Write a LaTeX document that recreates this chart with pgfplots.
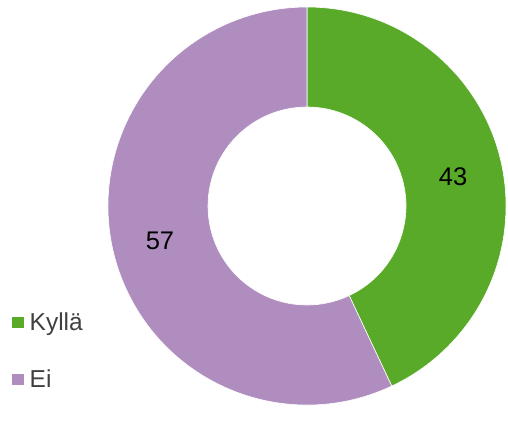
\documentclass[border=0pt]{standalone}
\usepackage{pgfplots}
\pgfplotsset{compat=1.18}
\usepackage{fontspec}
\setmainfont{Liberation Sans}
\definecolor{kyllaGreen}{HTML}{5AAA2A}
\definecolor{eiPurple}{HTML}{AF8EBF}
\definecolor{legendGray}{HTML}{404040}

% shares of the two answers
\def\valKylla{43}
\def\valEi{57}
\pgfmathsetmacro\angEnd{90-360*\valKylla/(\valKylla+\valEi)}

\begin{document}
\begin{tikzpicture}
\begin{axis}[
  x=1bp, y=1bp, scale only axis,
  xmin=0, xmax=508, ymin=0, ymax=406,
  hide axis, clip=false,
  legend style={at={(axis cs:12,95)}, anchor=north west,
                draw=none, fill=none, inner sep=0pt,
                row sep=33bp,
                font=\fontsize{24.5bp}{28bp}\selectfont, text=legendGray,
                /tikz/every odd column/.append style={column sep=3.5bp}},
  legend cell align=left,
  legend image code/.code={\fill[#1] (0bp,-5.5bp) rectangle (12bp,5.5bp);},
]
  % keep the page as large as the reference
  \path (axis cs:0,0) rectangle (axis cs:508,406);
  % green sector: Kyllä
  \fill[kyllaGreen, draw=white, line width=0.6bp]
    (axis cs:307,200) ++(90:199bp)
    arc[start angle=90, end angle=\angEnd, radius=199bp]
    -- ++(\angEnd+180:100bp)
    arc[start angle=\angEnd, end angle=90, radius=99bp] -- cycle;
  % purple sector: Ei
  \fill[eiPurple, draw=white, line width=0.6bp]
    (axis cs:307,200) ++(\angEnd:199bp)
    arc[start angle=\angEnd, end angle=-270, radius=199bp]
    -- ++(270:100bp)
    arc[start angle=-270, end angle=\angEnd, radius=99bp] -- cycle;

  \addplot[draw=none, mark=none, forget plot,
    nodes near coords, point meta=explicit symbolic,
    nodes near coords style={anchor=center, text=black,
      font=\fontsize{25.5bp}{30bp}\selectfont}]
    coordinates {(453,229)[43] (160,165)[57]};

  \addlegendimage{draw=none, fill=kyllaGreen}
  \addlegendentry{Kyllä}
  \addlegendimage{draw=none, fill=eiPurple}
  \addlegendentry{Ei}
\end{axis}
\end{tikzpicture}
\end{document}
